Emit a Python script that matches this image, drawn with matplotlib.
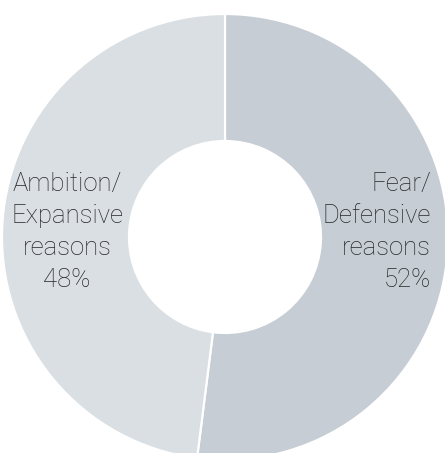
import matplotlib.pyplot as plt
from matplotlib import font_manager

labels = ['Fear/\nDefensive\nreasons', 'Ambition/\nExpansive\nreasons']
shares = [52, 48]
colors = ['#c6cdd4', '#d9dfe3']

names = {f.name for f in font_manager.fontManager.ttflist}
family = 'Roboto' if 'Roboto' in names else 'DejaVu Sans'

fig = plt.figure(figsize=(4.45, 4.53), dpi=100)
ax = fig.add_axes([0, 0, 1, 1])

outer = 223
inner = 96
ax.pie(shares, colors=colors, startangle=90, counterclock=False,
       radius=outer, wedgeprops=dict(width=outer - inner, edgecolor='white', linewidth=1.6))

# labels sit in the ring, right one right-aligned, left one centred
txt = dict(fontsize=18.5, color='#262626', family=family, fontweight='light', linespacing=1.42)
ax.text(206, 5, f'{labels[0]}\n{shares[0]}%', ha='right', va='center', **txt)
ax.text(-158, 5, f'{labels[1]}\n{shares[1]}%', ha='center', va='center', **txt)

ax.set_xlim(-225, 220)
ax.set_ylim(-216, 237)
ax.set_aspect('equal')
ax.axis('off')

fig.savefig('out.png', dpi=100, facecolor='white')
